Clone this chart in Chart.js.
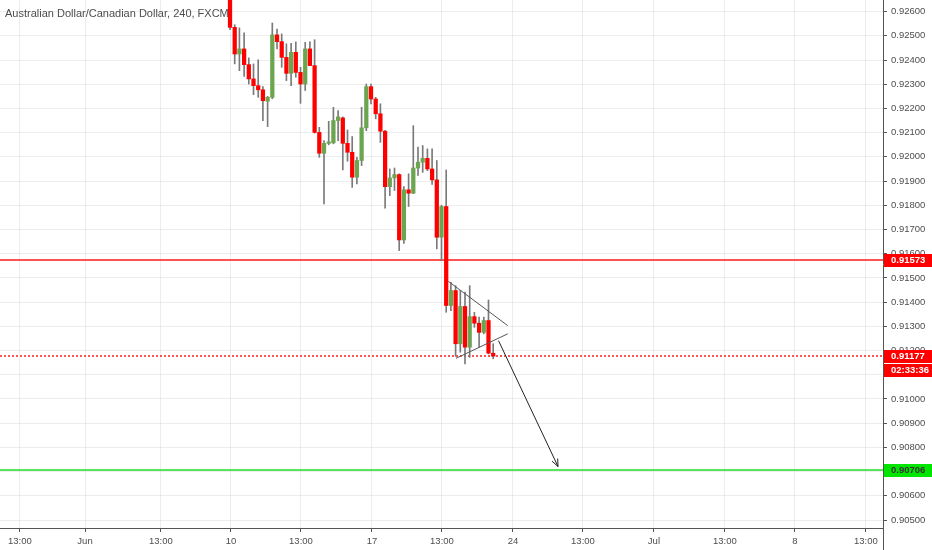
<!DOCTYPE html>
<html>
<head>
<meta charset="utf-8">
<script src="https://cdn.jsdelivr.net/npm/chart.js"></script>
<style>
  html, body { margin: 0; padding: 0; background: #ffffff; }
  #wrap { width: 932px; height: 550px; }
</style>
</head>
<body>
<div id="wrap"><canvas id="chart" width="932" height="550"></canvas></div>
<script>
  // AUD/CAD 4h candles, starting Mon Jun 10 (index 0)
  const opens  = [0.92680, 0.92535, 0.92425, 0.92446, 0.92381, 0.92322, 0.92294, 0.92277, 0.92230, 0.92246,
                  0.92504, 0.92476, 0.92411, 0.92345, 0.92432, 0.92349, 0.92301, 0.92446, 0.92377, 0.92101,
                  0.92015, 0.92056, 0.92058, 0.92150, 0.92161, 0.92056, 0.92019, 0.91916, 0.91985, 0.92120,
                  0.92290, 0.92239, 0.92178, 0.92106, 0.91877, 0.91913, 0.91927, 0.91657, 0.91864, 0.91850,
                  0.91954, 0.91978, 0.91994, 0.91950, 0.91905, 0.91668, 0.91795, 0.91386, 0.91448, 0.91228,
                  0.91382, 0.91214, 0.91340, 0.91313, 0.91275, 0.91324, 0.91189];
  const highs  = [0.92700, 0.92546, 0.92533, 0.92512, 0.92409, 0.92384, 0.92401, 0.92290, 0.92250, 0.92553,
                  0.92528, 0.92508, 0.92467, 0.92469, 0.92475, 0.92370, 0.92473, 0.92475, 0.92484, 0.92122,
                  0.92067, 0.92147, 0.92205, 0.92191, 0.92165, 0.92111, 0.92084, 0.91998, 0.92205, 0.92301,
                  0.92301, 0.92246, 0.92219, 0.92110, 0.91950, 0.91954, 0.91930, 0.91877, 0.91930, 0.92129,
                  0.92040, 0.92047, 0.92033, 0.92033, 0.91985, 0.91800, 0.91946, 0.91482, 0.91468, 0.91448,
                  0.91441, 0.91468, 0.91358, 0.91338, 0.91338, 0.91409, 0.91228];
  const lows   = [0.92525, 0.92384, 0.92356, 0.92332, 0.92301, 0.92257, 0.92246, 0.92150, 0.92125, 0.92240,
                  0.92446, 0.92370, 0.92315, 0.92294, 0.92329, 0.92221, 0.92274, 0.92377, 0.92098, 0.91998,
                  0.91806, 0.92050, 0.92054, 0.92067, 0.91946, 0.91982, 0.91874, 0.91888, 0.91964, 0.92108,
                  0.92219, 0.92157, 0.92060, 0.91788, 0.91840, 0.91861, 0.91613, 0.91643, 0.91795, 0.91848,
                  0.91923, 0.91936, 0.91943, 0.91886, 0.91620, 0.91572, 0.91358, 0.91365, 0.91176, 0.91193,
                  0.91145, 0.91172, 0.91296, 0.91214, 0.91269, 0.91186, 0.91166];
  const closes = [0.92535, 0.92425, 0.92446, 0.92381, 0.92322, 0.92294, 0.92277, 0.92232, 0.92246, 0.92504,
                  0.92476, 0.92411, 0.92345, 0.92432, 0.92349, 0.92301, 0.92446, 0.92377, 0.92101, 0.92015,
                  0.92056, 0.92062, 0.92150, 0.92165, 0.92056, 0.92019, 0.91916, 0.91985, 0.92120, 0.92290,
                  0.92239, 0.92178, 0.92106, 0.91877, 0.91913, 0.91927, 0.91657, 0.91864, 0.91850, 0.91954,
                  0.91978, 0.91994, 0.91950, 0.91905, 0.91668, 0.91795, 0.91386, 0.91448, 0.91228, 0.91382,
                  0.91214, 0.91340, 0.91313, 0.91275, 0.91324, 0.91189, 0.91177];

  const priceTicks = [0.905, 0.906, 0.907, 0.908, 0.909, 0.910, 0.911, 0.912, 0.913, 0.914, 0.915,
                      0.916, 0.917, 0.918, 0.919, 0.920, 0.921, 0.922, 0.923, 0.924, 0.925, 0.926];
  // time axis marks, in candle index units
  const timeTickPos    = [-44.7, -30.85, -14.7, 0.2, 15.1, 30.2, 45.1, 60.2, 75.1, 90.2, 105.3, 120.2, 135.3];
  const timeTickLabels = ['13:00', 'Jun', '13:00', '10', '13:00', '17', '13:00', '24', '13:00', 'Jul', '13:00', '8', '13:00'];

  // horizontal levels
  const resistance = 0.91573;
  const lastPrice = 0.91177;
  const target = 0.90706;
  const countdown = '02:33:36';

  // drawings: [candle index, price]
  const triangleUpper = [[46.45, 0.91486], [59.09, 0.91303]];
  const triangleLower = [[48.09, 0.91168], [59.09, 0.91269]];
  const arrowPath     = [[57.13, 0.91241], [69.79, 0.90721]];

  const canvas = document.getElementById('chart');
  const context = canvas.getContext('2d');
  const UP = '#6ba550';
  const DOWN = '#ff0000';
  const WICK = '#7a7a7a';
  const AXIS = '#555555';
  const TEXT = '#4d4d4d';
  const FONT = '"Liberation Sans", Arial, sans-serif';

  const idx = opens.map((_, i) => i);
  const wickData = idx.map(i => ({ x: i, y: [lows[i], highs[i]] }));
  const bodyData = idx.map(i => ({ x: i, y: [opens[i], closes[i]] }));
  const bodyColors = idx.map(i => closes[i] >= opens[i] ? UP : DOWN);
  const toPoints = arr => arr.map(p => ({ x: p[0], y: p[1] }));

  const noPadding = scale => {
    scale.paddingTop = 0;
    scale.paddingBottom = 0;
    scale.paddingLeft = 0;
    scale.paddingRight = 0;
  };

  const drawLevel = (c, y, x0, x1, color, dash) => {
    c.save();
    c.strokeStyle = color;
    c.lineWidth = 1.5;
    c.setLineDash(dash);
    c.beginPath();
    c.moveTo(x0, Math.round(y));
    c.lineTo(x1, Math.round(y));
    c.stroke();
    c.restore();
  };

  const drawTag = (c, x, y, text, bg, fg) => {
    c.fillStyle = bg;
    c.fillRect(x, Math.round(y) - 6, 932 - x, 13);
    c.fillStyle = fg;
    c.font = 'bold 9.5px ' + FONT;
    c.textBaseline = 'middle';
    c.textAlign = 'left';
    c.fillText(text, x + 7, Math.round(y) + 0.5);
  };

  const overlayPlugin = {
    id: 'overlay',
    beforeDatasetsDraw(chart) {
      const { ctx, chartArea: a, scales: { y } } = chart;
      drawLevel(ctx, y.getPixelForValue(resistance), a.left, a.right, '#ff1a1a', []);
      drawLevel(ctx, y.getPixelForValue(lastPrice), a.left, a.right, '#ff1a1a', [2, 2]);
      drawLevel(ctx, y.getPixelForValue(target), a.left, a.right, '#22dd22', []);
    },
    afterDatasetsDraw(chart) {
      // arrow head
      const { ctx, scales: { x, y } } = chart;
      const x0 = x.getPixelForValue(arrowPath[0][0]), y0 = y.getPixelForValue(arrowPath[0][1]);
      const x1 = x.getPixelForValue(arrowPath[1][0]), y1 = y.getPixelForValue(arrowPath[1][1]);
      const ang = Math.atan2(y1 - y0, x1 - x0);
      ctx.save();
      ctx.strokeStyle = '#222';
      ctx.lineWidth = 1;
      ctx.beginPath();
      ctx.moveTo(x1 - 8 * Math.cos(ang - 0.4), y1 - 8 * Math.sin(ang - 0.4));
      ctx.lineTo(x1, y1);
      ctx.lineTo(x1 - 8 * Math.cos(ang + 0.4), y1 - 8 * Math.sin(ang + 0.4));
      ctx.stroke();
      ctx.restore();
    },
    afterDraw(chart) {
      const { ctx, chartArea: a, scales: { y } } = chart;
      ctx.save();
      // axis line runs on to the bottom edge
      ctx.strokeStyle = AXIS;
      ctx.lineWidth = 1;
      ctx.beginPath();
      ctx.moveTo(a.right + 0.5, a.bottom);
      ctx.lineTo(a.right + 0.5, chart.height);
      ctx.stroke();
      // price tags
      const tx = a.right + 1;
      drawTag(ctx, tx, y.getPixelForValue(resistance), resistance.toFixed(5), '#ff0000', '#ffffff');
      const ly = y.getPixelForValue(lastPrice);
      drawTag(ctx, tx, ly, lastPrice.toFixed(5), '#ff0000', '#ffffff');
      drawTag(ctx, tx, ly + 14, countdown, '#ff0000', '#ffffff');
      drawTag(ctx, tx, y.getPixelForValue(target), target.toFixed(5), '#00e600', '#333333');
      // title
      ctx.fillStyle = TEXT;
      ctx.font = '11px ' + FONT;
      ctx.textBaseline = 'alphabetic';
      ctx.textAlign = 'left';
      ctx.fillText('Australian Dollar/Canadian Dollar, 240, FXCM', 5, 17);
      ctx.restore();
    }
  };

  const chart = new Chart(context, {
    type: 'bar',
    data: {
      datasets: [
        { type: 'bar', data: wickData, backgroundColor: WICK, barThickness: 1, grouped: false, order: 3 },
        { type: 'bar', data: bodyData, backgroundColor: bodyColors, barThickness: 3.6, minBarLength: 1, grouped: false, order: 2 },
        { type: 'line', data: toPoints(triangleUpper), borderColor: '#555', borderWidth: 1, pointRadius: 0, order: 1 },
        { type: 'line', data: toPoints(triangleLower), borderColor: '#555', borderWidth: 1, pointRadius: 0, order: 1 },
        { type: 'line', data: toPoints(arrowPath), borderColor: '#222', borderWidth: 1, pointRadius: 0, order: 1 }
      ]
    },
    options: {
      responsive: false,
      animation: false,
      layout: { padding: 0 },
      plugins: { legend: { display: false }, tooltip: { enabled: false } },
      scales: {
        x: {
          type: 'linear',
          offset: false,
          min: -48.94,
          max: 138.94,
          afterBuildTicks: scale => { scale.ticks = timeTickPos.map(v => ({ value: v })); },
          afterFit: scale => { scale.height = 22; noPadding(scale); },
          ticks: {
            autoSkip: false,
            maxRotation: 0,
            padding: 4,
            color: TEXT,
            font: { family: FONT, size: 9.5 },
            callback: (v, i) => timeTickLabels[i]
          },
          grid: { offset: false, color: 'rgba(0,0,0,0.07)', tickColor: AXIS, tickLength: 4 },
          border: { color: AXIS }
        },
        y: {
          position: 'right',
          min: 0.90467,
          max: 0.92648,
          afterBuildTicks: scale => { scale.ticks = priceTicks.map(v => ({ value: v })); },
          afterFit: scale => { scale.width = 49; noPadding(scale); },
          ticks: {
            autoSkip: false,
            padding: 4,
            color: TEXT,
            font: { family: FONT, size: 9.5 },
            callback: v => v.toFixed(5)
          },
          grid: { color: 'rgba(0,0,0,0.07)', tickColor: AXIS, tickLength: 4 },
          border: { color: AXIS }
        }
      }
    },
    plugins: [overlayPlugin]
  });
</script>
</body>
</html>
